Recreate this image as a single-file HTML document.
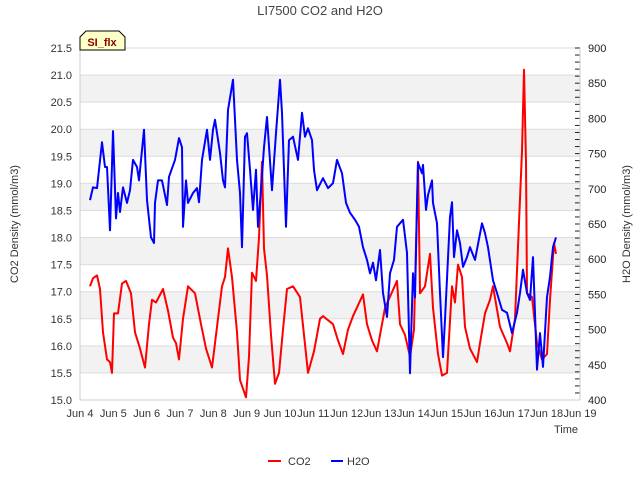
<!DOCTYPE html>
<html><head><meta charset="utf-8"><style>
body{margin:0;background:#fff;}
svg text{font-family:"Liberation Sans","DejaVu Sans",sans-serif;}
</style></head><body>
<svg id="chart" width="640" height="480" xmlns="http://www.w3.org/2000/svg">
<rect width="640" height="480" fill="#fff"/>
<text x="320" y="15" text-anchor="middle" font-size="13" fill="#444">LI7500 CO2 and H2O</text>
<g id="bands"></g>
<g id="grid"></g>
<g id="axes"></g>
<g id="series"></g>
<text transform="translate(18,224) rotate(-90)" text-anchor="middle" font-size="11" fill="#333">CO2 Density (mmol/m3)</text>
<text transform="translate(630,224) rotate(-90)" text-anchor="middle" font-size="11" fill="#333">H2O Density (mmol/m3)</text>
<text x="578" y="433" text-anchor="end" font-size="11" fill="#333">Time</text>
<g>
<path d="M80,50 L80,37 L86,31 L119,31 L125,37 L125,50 Z" fill="#ffffc8" stroke="#000" stroke-width="1"/>
<text x="102" y="46" text-anchor="middle" font-size="11" font-weight="bold" fill="#8b0000">SI_flx</text>
</g>
<g>
<g><line x1="268" y1="461" x2="281" y2="461" stroke="#f00" stroke-width="2"/><text x="288" y="465" font-size="11" fill="#333">CO2</text></g>
<g><line x1="331" y1="461" x2="343" y2="461" stroke="#00f" stroke-width="2"/><text x="347" y="465" font-size="11" fill="#333">H2O</text></g>
</g>
</svg>
<script>
const xTicks=[4,5,6,7,8,9,10,11,12,13,14,15,16,17,18,19];
const leftTicks=[15.0,15.5,16.0,16.5,17.0,17.5,18.0,18.5,19.0,19.5,20.0,20.5,21.0,21.5];
const rightTicks=[400,450,500,550,600,650,700,750,800,850,900];
const co2Days=[4.30,4.39,4.51,4.60,4.69,4.81,4.90,4.96,5.02,5.14,5.26,5.38,5.53,5.65,5.80,5.95,6.07,6.16,6.28,6.49,6.64,6.79,6.88,6.97,7.09,7.24,7.45,7.63,7.78,7.96,8.11,8.26,8.35,8.44,8.56,8.71,8.80,8.98,9.07,9.16,9.28,9.37,9.46,9.52,9.61,9.73,9.85,9.97,10.09,10.21,10.39,10.60,10.72,10.84,11.02,11.20,11.29,11.59,11.74,11.89,12.04,12.19,12.49,12.61,12.76,12.91,13.15,13.51,13.60,13.75,13.90,14.02,14.14,14.20,14.35,14.50,14.59,14.74,14.86,15.01,15.16,15.25,15.34,15.46,15.55,15.70,15.91,16.00,16.15,16.30,16.39,16.60,16.81,16.90,17.05,17.14,17.26,17.32,17.38,17.41,17.56,17.71,17.86,18.01,18.10,18.22,18.28];
const co2Values=[17.1,17.25,17.3,17.05,16.25,15.75,15.7,15.5,16.6,16.6,17.15,17.2,16.97,16.25,15.95,15.6,16.4,16.85,16.8,17.05,16.65,16.15,16.05,15.75,16.5,17.1,16.97,16.4,15.95,15.6,16.35,17.1,17.27,17.8,17.27,16.25,15.37,15.05,15.8,17.35,17.2,18.0,19.4,17.8,17.3,16.2,15.3,15.5,16.3,17.05,17.1,16.9,16.2,15.5,15.9,16.5,16.55,16.4,16.1,15.85,16.3,16.55,16.95,16.4,16.1,15.9,16.7,17.2,16.4,16.2,15.8,16.3,19.4,16.97,17.1,17.7,16.7,15.85,15.45,15.5,17.1,16.8,17.5,17.27,16.35,15.95,15.7,16.05,16.6,16.85,17.1,16.35,16.05,15.9,16.5,17.83,19.6,21.1,19.4,16.97,16.9,16.05,15.75,15.85,16.85,17.9,17.7];
const h2oDays=[4.30,4.39,4.51,4.66,4.75,4.81,4.90,4.99,5.08,5.14,5.20,5.29,5.41,5.50,5.59,5.71,5.77,5.92,6.01,6.13,6.22,6.25,6.34,6.46,6.61,6.67,6.85,6.97,7.06,7.09,7.18,7.24,7.39,7.51,7.57,7.66,7.81,7.90,7.99,8.05,8.20,8.29,8.35,8.44,8.59,8.71,8.80,8.86,8.95,9.01,9.10,9.19,9.28,9.34,9.43,9.52,9.61,9.76,9.88,10.00,10.06,10.18,10.27,10.39,10.54,10.66,10.75,10.84,10.96,11.02,11.11,11.29,11.44,11.59,11.71,11.86,11.98,12.10,12.25,12.37,12.49,12.61,12.70,12.79,12.88,13.00,13.09,13.21,13.30,13.42,13.51,13.69,13.81,13.90,13.99,14.05,14.14,14.26,14.29,14.38,14.44,14.56,14.59,14.71,14.80,14.89,14.95,15.10,15.16,15.22,15.31,15.40,15.49,15.61,15.70,15.85,16.06,16.15,16.24,16.39,16.51,16.66,16.81,16.96,17.11,17.20,17.29,17.41,17.50,17.59,17.71,17.80,17.89,18.01,18.10,18.19,18.28];
const h2oValues=[684,702,701,766,731,731,641,782,658,694,667,702,680,698,741,731,712,784,684,631,623,680,712,712,677,717,741,772,759,646,712,680,694,701,681,741,784,741,784,798,751,712,702,812,855,741,694,617,774,779,727,670,727,646,698,759,802,698,779,855,808,646,769,774,741,808,774,786,769,727,698,715,701,708,741,722,680,666,656,646,617,599,580,595,570,613,552,518,580,599,646,656,609,438,580,546,737,722,734,670,691,712,680,651,552,461,514,660,681,603,641,623,589,603,617,599,651,637,617,570,552,528,524,495,524,552,585,552,542,603,443,495,447,546,575,617,631];

const NS="http://www.w3.org/2000/svg";
const X0=80,X1=580,Y0=48,Y1=400;
function xs(d){return X0+(d-4)/15*(X1-X0);}
function yl(v){return Y1-(v-15)/6.5*(Y1-Y0);}
function yr(v){return Y1-(v-400)/500*(Y1-Y0);}
function mk(tag,attrs,parent){const e=document.createElementNS(NS,tag);for(const k in attrs)e.setAttribute(k,attrs[k]);parent.appendChild(e);return e;}
const bands=document.getElementById('bands'),grid=document.getElementById('grid'),axes=document.getElementById('axes'),series=document.getElementById('series');
for(let i=0;i<leftTicks.length-1;i++){
  if(i%2===1){const b=mk('rect',{x:X0,y:yl(leftTicks[i+1]),width:X1-X0,height:yl(leftTicks[i])-yl(leftTicks[i+1]),fill:'#f2f2f2'},bands);
  
  }
}
leftTicks.forEach(v=>{
  const l=mk('line',{x1:X0,x2:X1,y1:yl(v),y2:yl(v),stroke:'#dcdcdc','stroke-width':1},grid);
  
  
  const t=mk('text',{x:X0-8,y:yl(v)+4,'text-anchor':'end','font-size':11,fill:'#333'},axes);
  t.textContent=v.toFixed(1);
  
  
});
rightTicks.forEach(v=>{
  const t=mk('text',{x:X1+8,y:yr(v)+4,'font-size':11,fill:'#222'},axes);
  t.textContent=v;
  
  
});
for(let v=400;v<=900;v+=10){
  const tk=mk('line',{x1:X1-5,x2:X1,y1:yr(v),y2:yr(v),stroke:'#222','stroke-width':1},axes);
  
  
}
mk('line',{x1:X0,x2:X0,y1:Y0,y2:Y1,stroke:'#ccc'},axes);
mk('line',{x1:X0,x2:X1,y1:Y1,y2:Y1,stroke:'#ccc'},axes);
mk('line',{x1:X1,x2:X1,y1:Y0,y2:Y1,stroke:'#ccc'},axes);
xTicks.forEach(d=>{
  const t=mk('text',{x:xs(d),y:417,'text-anchor':'middle','font-size':11,fill:'#333'},axes);
  t.textContent='Jun '+d;
  
  
});
function line(days,vals,yf,color,name){
  const p=days.map((d,i)=>(i?'L':'M')+xs(d).toFixed(1)+','+yf(vals[i]).toFixed(1)).join('');
  const e=mk('path',{d:p,fill:'none',stroke:color,'stroke-width':2,'stroke-linejoin':'round'},series);
  
  
}
line(co2Days,co2Values,yl,'#ff0000','co2-line');
line(h2oDays,h2oValues,yr,'#0000ff','h2o-line');
</script>
</body></html>
